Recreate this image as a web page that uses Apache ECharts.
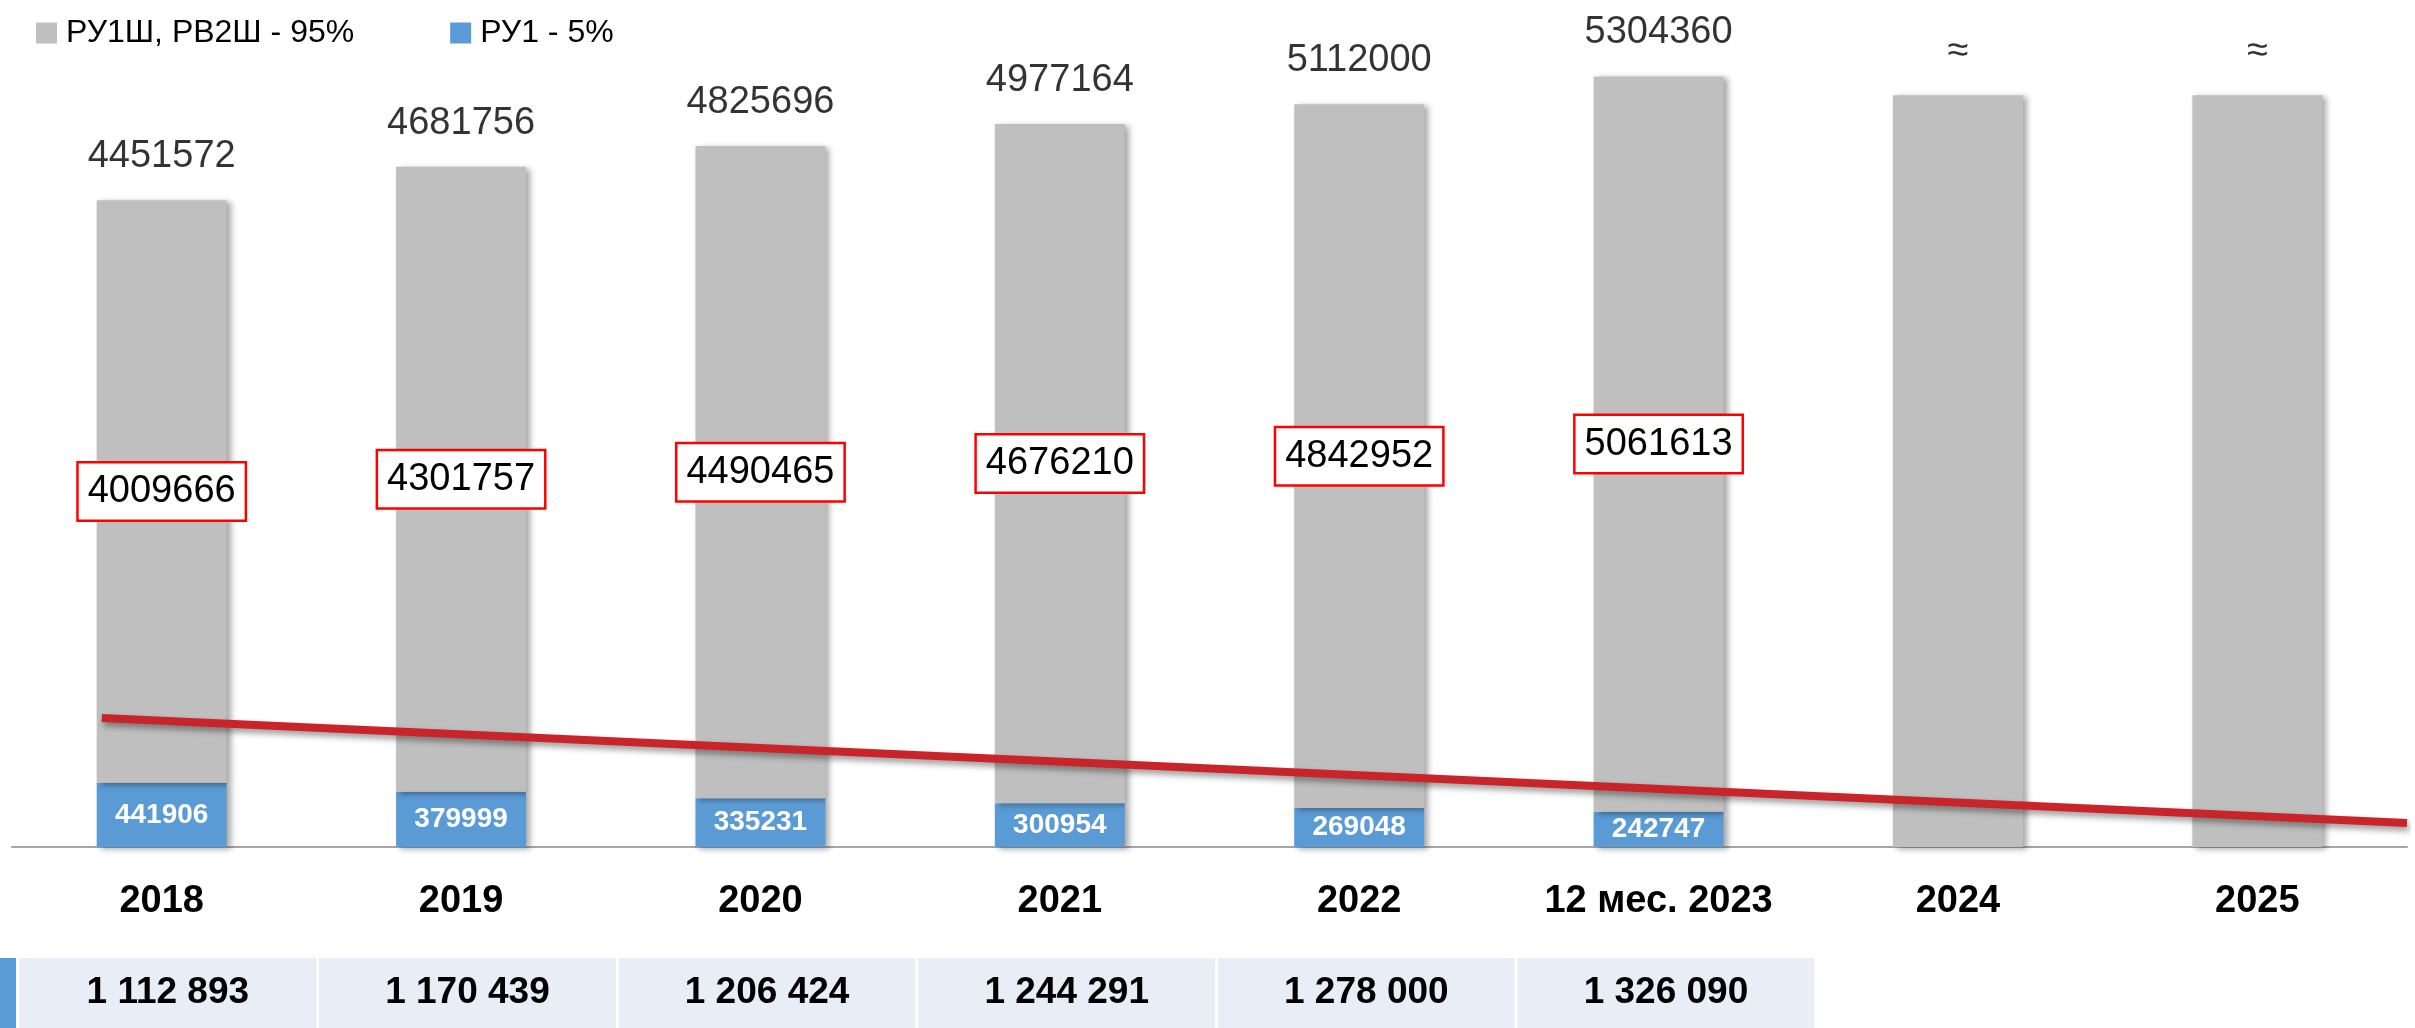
<!DOCTYPE html>
<html>
<head>
<meta charset="utf-8">
<script src="https://cdn.jsdelivr.net/npm/echarts@6/dist/echarts.min.js"></script>
<style>
  html, body { margin: 0; padding: 0; background: #fff; }
  #chart { width: 2415px; height: 1028px; }
</style>
</head>
<body>
<div id="chart"></div>
<script>
// categories and values
var categories = ['2018', '2019', '2020', '2021', '2022', '12 мес. 2023', '2024', '2025'];
var grayValues = [4009666, 4301757, 4490465, 4676210, 4842952, 5061613, 5175000, 5175000];
var blueValues = [441906, 379999, 335231, 300954, 269048, 242747, null, null];
var totalLabels = ['4451572', '4681756', '4825696', '4977164', '5112000', '5304360', '≈', '≈'];
var tableValues = [1112893, 1170439, 1206424, 1244291, 1278000, 1326090, null, null];
// trend line ends: [position along axis in categories, value]
var trendLine = [[0.3, 888000], [8, 165000]];

var grayName = 'РУ1Ш, РВ2Ш - 95%';
var blueName = 'РУ1 - 5%';
var font = 'Liberation Sans, Arial, sans-serif';

var chart = echarts.init(document.getElementById('chart'));

function spaced(v) {
  return String(v).replace(/\B(?=(\d{3})+(?!\d))/g, ' ');
}

var barShadow = {
  shadowColor: 'rgba(0,0,0,0.35)',
  shadowBlur: 6,
  shadowOffsetX: 4,
  shadowOffsetY: 2
};

var grayData = grayValues.map(function (v, i) {
  return {
    value: v,
    label: { show: blueValues[i] != null }
  };
});

var totals = grayValues.map(function (v, i) {
  return v + (blueValues[i] || 0);
});

var tableData = tableValues.map(function (v) {
  return v == null ? null : { value: 1, name: spaced(v) };
});

var option = {
  backgroundColor: '#fff',
  animation: false,
  textStyle: { fontFamily: font },
  legend: {
    data: [
      { name: grayName, icon: 'rect' },
      { name: blueName, icon: 'rect' }
    ],
    left: 31,
    top: 12,
    itemWidth: 21,
    itemHeight: 21,
    itemGap: 96,
    textStyle: { fontSize: 32, color: '#000', padding: [0, 0, 0, 4] }
  },
  grid: [
    { left: 12, right: 8, top: 48, bottom: 181 },
    { left: 18, right: 0, top: 958, bottom: 0 }
  ],
  // cut-off header cell of the table at the left edge
  graphic: [
    { type: 'rect', left: 0, top: 958, shape: { width: 16, height: 70 }, style: { fill: '#5b9bd5' } }
  ],
  xAxis: [
    {
      type: 'category',
      data: categories,
      gridIndex: 0,
      axisLine: { lineStyle: { color: '#a6a6a6', width: 2 } },
      axisTick: { length: 13, lineStyle: { color: '#a6a6a6', width: 2 } },
      axisLabel: { margin: 36, fontSize: 38, fontWeight: 'bold', color: '#000' }
    },
    { type: 'value', gridIndex: 0, min: 0, max: 8, show: false },
    { type: 'category', gridIndex: 1, data: categories, show: false }
  ],
  yAxis: [
    { type: 'value', gridIndex: 0, min: 0, max: 5500000, show: false },
    { type: 'value', gridIndex: 1, min: 0, max: 1, show: false }
  ],
  series: [
    {
      name: blueName,
      type: 'bar',
      stack: 'total',
      barCategoryGap: '56.6%',
      data: blueValues,
      itemStyle: Object.assign({ color: '#5b9bd5' }, barShadow),
      label: { show: true, position: 'inside', color: '#fff', fontSize: 28, fontWeight: 'bold' }
    },
    {
      name: grayName,
      type: 'bar',
      stack: 'total',
      data: grayData,
      itemStyle: Object.assign({ color: '#bfbfbf' }, barShadow),
      label: {
        position: 'inside',
        color: '#000',
        fontSize: 38,
        backgroundColor: '#fff',
        borderColor: '#ff0000',
        borderWidth: 2.5,
        padding: [9, 9, 9, 9]
      },
      z: 2
    },
    {
      // totals above the bars
      type: 'scatter',
      data: totals,
      symbolSize: 1,
      itemStyle: { color: 'rgba(0,0,0,0)' },
      label: {
        show: true,
        position: 'top',
        distance: 24,
        fontSize: 38,
        color: '#000',
        formatter: function (p) { return totalLabels[p.dataIndex]; }
      },
      silent: true
    },
    {
      type: 'line',
      xAxisIndex: 1,
      data: trendLine,
      symbol: 'none',
      lineStyle: {
        color: '#c8242a',
        width: 8,
        shadowColor: 'rgba(0,0,0,0.4)',
        shadowBlur: 6,
        shadowOffsetX: 2,
        shadowOffsetY: 4
      },
      z: 5
    },
    {
      // table under the axis
      type: 'bar',
      xAxisIndex: 2,
      yAxisIndex: 1,
      barWidth: 297,
      data: tableData,
      itemStyle: { color: '#e8edf6' },
      label: {
        show: true,
        position: 'inside',
        fontSize: 37,
        fontWeight: 'bold',
        color: '#000',
        formatter: '{b}'
      },
      silent: true
    }
  ]
};

chart.setOption(option);
</script>
</body>
</html>
